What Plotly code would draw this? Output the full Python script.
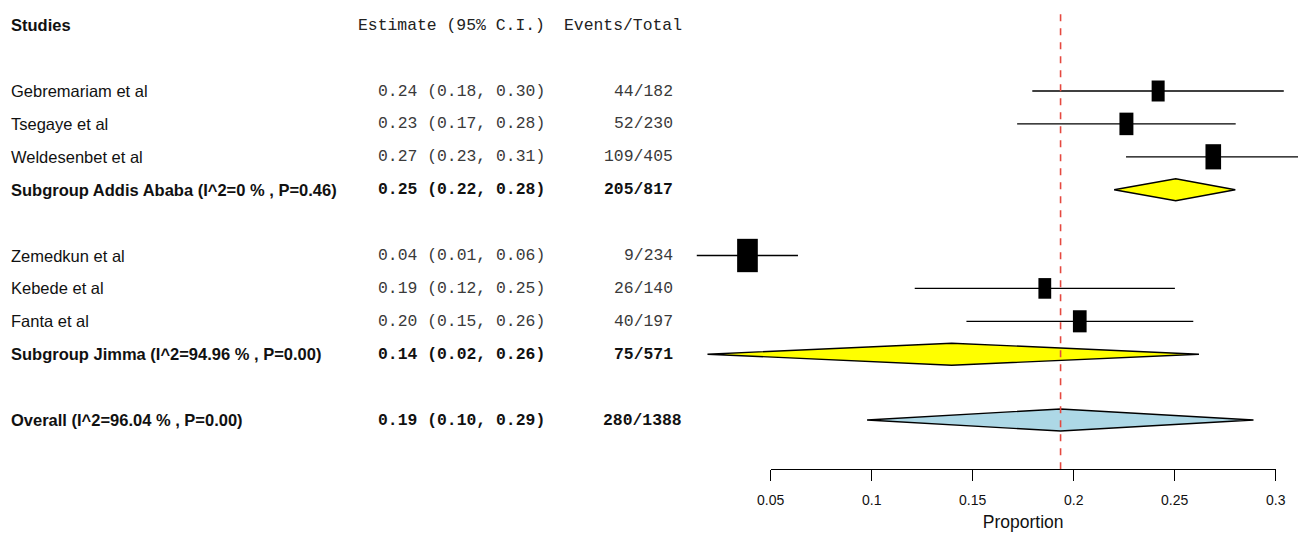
import plotly.graph_objects as go

# ---------------- data ----------------
study_names = ["Gebremariam et al", "Tsegaye et al", "Weldesenbet et al",
               "Zemedkun et al", "Kebede et al", "Fanta et al"]
study_group = ["Addis Ababa", "Addis Ababa", "Addis Ababa", "Jimma", "Jimma", "Jimma"]
study_est = [0.2418, 0.2261, 0.2691, 0.0385, 0.1857, 0.2030]
study_lo = [0.1795, 0.1720, 0.2259, 0.0134, 0.1213, 0.1469]
study_hi = [0.3040, 0.2802, 0.3123, 0.0635, 0.2501, 0.2592]
study_events = [44, 52, 109, 9, 26, 40]
study_total = [182, 230, 405, 234, 140, 197]

sub_names = ["Addis Ababa", "Jimma"]
sub_i2 = ["0", "94.96"]
sub_p = ["0.46", "0.00"]
sub_est = [0.2505, 0.1396]
sub_lo = [0.2200, 0.0187]
sub_hi = [0.2800, 0.2620]
sub_events = [205, 75]
sub_total = [817, 571]

overall_i2 = "96.04"
overall_p = "0.00"
overall_est = 0.1935
overall_lo = 0.0977
overall_hi = 0.2890
overall_events = 280
overall_total = 1388

tick_vals = [0.05, 0.1, 0.15, 0.2, 0.25, 0.3]
tick_text = ["0.05", "0.1", "0.15", "0.2", "0.25", "0.3"]
x_title = "Proportion"

# ---------------- layout constants (reference pixels) ----------------
W, H = 1306, 538
OFF = 8                # page body margin offset
X0_PX = 669.7          # pixel of value 0
PX_PER_UNIT = 2020.0
ROW0_PX = 91.0
ROW_PX = 32.9
AXIS_PX = 469.3

SANS = "Liberation Sans Narrow, Arial Narrow, Liberation Sans, Arial, sans-serif"
MONO = "Liberation Mono, Courier New, monospace"
SANS_SIZE = 16.5
MONO_SIZE = 16.4

def row_of(px):
    return (px - ROW0_PX) / ROW_PX

fig = go.Figure()

# row assignment
rows_study = []
rows_sub = []
r = 0
for g in sub_names:
    for i, sg in enumerate(study_group):
        if sg == g:
            rows_study.append((i, r))
            r += 1
    rows_sub.append(r)
    r += 2
row_overall = r
row_header = -2

annotations = []

def add_text(x_px, row, text, font, size, anchor, bold=False, color="#111"):
    annotations.append(dict(
        x=(x_px - OFF) / W, xref="paper", y=row, yref="y",
        text=("<b>%s</b>" % text) if bold else text,
        showarrow=False, xanchor=anchor, yanchor="middle",
        borderpad=0, font=dict(family=font, size=size, color=color)))

NAME_X = 10
EST_X = 546
EV_X = 674
EV_WIDE_X = 683

# header
add_text(NAME_X, row_header, "Studies", SANS, SANS_SIZE, "left", bold=True)
add_text(EST_X, row_header, "Estimate (95% C.I.)", MONO, MONO_SIZE, "right", color="#222")
add_text(EV_WIDE_X, row_header, "Events/Total", MONO, MONO_SIZE, "right", color="#222")

def ci_text(e, l, h):
    return "%.2f (%.2f, %.2f)" % (e, l, h)

# whiskers and boxes
wx, wy = [], []
shapes = []
for i, row in rows_study:
    wx += [study_lo[i], study_hi[i], None]
    wy += [row, row, None]
    add_text(NAME_X, row, study_names[i], SANS, SANS_SIZE, "left")
    add_text(EST_X, row, ci_text(study_est[i], study_lo[i], study_hi[i]), MONO, MONO_SIZE, "right", color="#3a3a3a")
    add_text(EV_X, row, "%d/%d" % (study_events[i], study_total[i]), MONO, MONO_SIZE, "right", color="#3a3a3a")
    p = study_est[i]
    wgt = study_total[i] / (p * (1 - p))
    h = 3.74 * wgt ** 0.25
    w = 0.62 * h
    shapes.append(dict(type="rect", xref="x", yref="y",
                       xsizemode="pixel", ysizemode="pixel",
                       xanchor=p, yanchor=row,
                       x0=-w / 2, x1=w / 2, y0=-h / 2, y1=h / 2,
                       fillcolor="black", line=dict(width=0)))

fig.add_trace(go.Scatter(x=wx, y=wy, mode="lines",
                         line=dict(color="black", width=1.3),
                         hoverinfo="skip", showlegend=False))

DIAMOND_HALF = 11.0 / ROW_PX

def diamond(e, l, h, row, color):
    fig.add_trace(go.Scatter(
        x=[l, e, h, e, l], y=[row, row - DIAMOND_HALF, row, row + DIAMOND_HALF, row],
        mode="lines", fill="toself", fillcolor=color,
        line=dict(color="black", width=1.4), hoverinfo="skip", showlegend=False))

for k, g in enumerate(sub_names):
    row = rows_sub[k]
    diamond(sub_est[k], sub_lo[k], sub_hi[k], row, "#FFFF00")
    add_text(NAME_X, row, "Subgroup %s (I^2=%s %% , P=%s)" % (g, sub_i2[k], sub_p[k]),
             SANS, SANS_SIZE, "left", bold=True)
    add_text(EST_X, row, ci_text(sub_est[k], sub_lo[k], sub_hi[k]), MONO, MONO_SIZE, "right", bold=True)
    add_text(EV_X, row, "%d/%d" % (sub_events[k], sub_total[k]), MONO, MONO_SIZE, "right", bold=True)

diamond(overall_est, overall_lo, overall_hi, row_overall, "#ADD8E6")
add_text(NAME_X, row_overall, "Overall (I^2=%s %% , P=%s)" % (overall_i2, overall_p),
         SANS, SANS_SIZE, "left", bold=True)
add_text(EST_X, row_overall, ci_text(overall_est, overall_lo, overall_hi), MONO, MONO_SIZE, "right", bold=True)
add_text(EV_WIDE_X, row_overall, "%d/%d" % (overall_events, overall_total), MONO, MONO_SIZE, "right", bold=True)

# dashed reference line at overall estimate, on the proportion axis
axis_fig_px = AXIS_PX - OFF
fig.add_trace(go.Scatter(x=[overall_est, overall_est], y=[0, (axis_fig_px + 2) / axis_fig_px],
                         xaxis="x2", yaxis="y2", mode="lines", cliponaxis=False,
                         line=dict(color="#E5483F", width=1.6, dash="7px,7px"),
                         hoverinfo="skip", showlegend=False))

fig.update_layout(
    width=W, height=H,
    margin=dict(l=0, r=0, t=0, b=0, autoexpand=False),
    paper_bgcolor="white", plot_bgcolor="rgba(0,0,0,0)",
    showlegend=False,
    shapes=shapes,
    annotations=annotations,
    xaxis=dict(range=[(OFF - X0_PX) / PX_PER_UNIT, (OFF + W - X0_PX) / PX_PER_UNIT],
               domain=[0, 1], visible=False, fixedrange=True, automargin=False),
    yaxis=dict(range=[row_of(OFF + H), row_of(OFF)], domain=[0, 1], visible=False,
               fixedrange=True, automargin=False),
    xaxis2=dict(domain=[(X0_PX + 0.05 * PX_PER_UNIT - OFF) / W,
                        (X0_PX + 0.30 * PX_PER_UNIT - OFF) / W],
                range=[0.05, 0.30], anchor="y2", automargin=False,
                showline=True, linecolor="black", linewidth=1.3,
                ticks="outside", ticklen=11, tickwidth=1.3, tickcolor="black",
                tickvals=tick_vals, ticktext=tick_text, ticklabelstandoff=7,
                tickfont=dict(family=SANS, size=14, color="#111"),
                showgrid=False, zeroline=False, fixedrange=True,
                title=dict(text=x_title, font=dict(family=SANS, size=17.5, color="#111"),
                           standoff=8)),
    yaxis2=dict(domain=[(H - axis_fig_px) / H, 1], range=[0, 1], anchor="x2",
                visible=False, fixedrange=True, automargin=False),
)

fig.write_html("out.html")
